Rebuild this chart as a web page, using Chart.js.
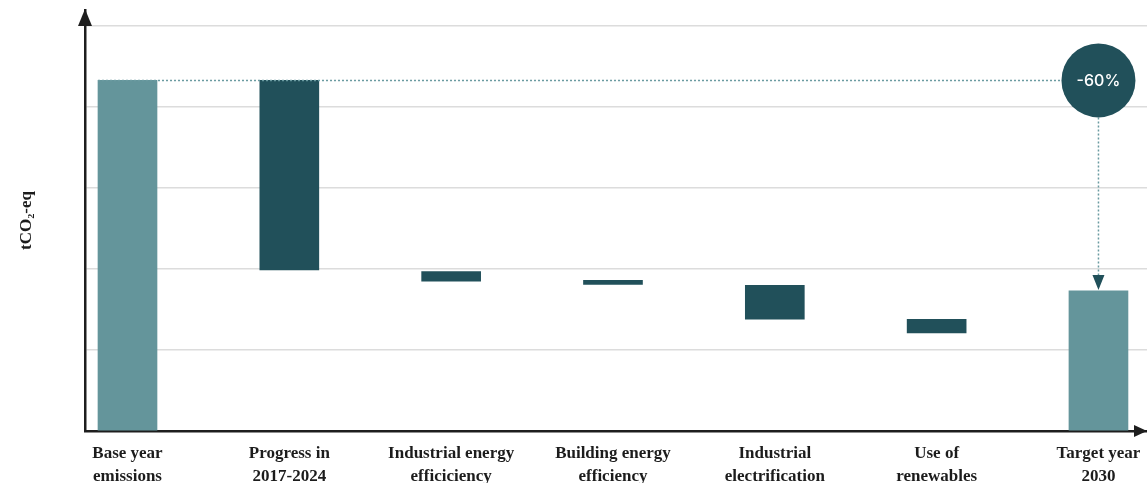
<!DOCTYPE html>
<html>
<head>
<meta charset="utf-8">
<script src="https://cdn.jsdelivr.net/npm/chart.js@4"></script>
<style>
  html, body { margin: 0; padding: 0; background: #fff; }
  .wrap { width: 1147px; height: 483px; position: relative; }
</style>
</head>
<body>
<div class="wrap"><canvas id="chart"></canvas></div>
<script>
// categories (x labels, two lines each)
const categories = [
  ['Base year', 'emissions'],
  ['Progress in', '2017-2024'],
  ['Industrial energy', 'efficiciency'],
  ['Building energy', 'efficiency'],
  ['Industrial', 'electrification'],
  ['Use of', 'renewables'],
  ['Target year', '2030']
];
// floating bar bottoms / tops (tCO2-eq, arbitrary units)
const barLow  = [0,    1.99, 1.85, 1.81, 1.38, 1.21, 0];
const barHigh = [4.33, 4.33, 1.97, 1.86, 1.80, 1.38, 1.73];
const reductionLabel = '-60%';

const LIGHT = '#64959b';
const DARK = '#21505a';
const DOTS = '#6b9ba1';
const barColors = categories.map((c, i) => (i === 0 || i === categories.length - 1) ? LIGHT : DARK);

const overlay = {
  id: 'overlay',
  afterDraw(chart) {
    const { ctx, chartArea, scales: { x, y } } = chart;
    const last = categories.length - 1;
    const baseY = y.getPixelForValue(barHigh[0]);
    const startX = x.getPixelForValue(0) - 29.5;
    const cx = x.getPixelForValue(last);
    const r = 37;
    const targetTop = y.getPixelForValue(barHigh[last]);

    ctx.save();
    // dotted reference lines
    ctx.strokeStyle = DOTS;
    ctx.lineWidth = 1.5;
    ctx.setLineDash([2, 2]);
    ctx.beginPath();
    ctx.moveTo(startX, baseY);
    ctx.lineTo(cx - r, baseY);
    ctx.moveTo(cx, baseY + r);
    ctx.lineTo(cx, targetTop - 16);
    ctx.stroke();
    ctx.setLineDash([]);

    // arrow head down to target bar
    ctx.fillStyle = DARK;
    ctx.beginPath();
    ctx.moveTo(cx - 6, targetTop - 16);
    ctx.lineTo(cx + 6, targetTop - 16);
    ctx.lineTo(cx, targetTop - 1);
    ctx.closePath();
    ctx.fill();

    // circle badge
    ctx.beginPath();
    ctx.arc(cx, baseY, r, 0, Math.PI * 2);
    ctx.fill();
    ctx.fillStyle = '#ffffff';
    ctx.font = '500 16px Inter, "Noto Sans", sans-serif';
    ctx.textAlign = 'center';
    ctx.textBaseline = 'middle';
    ctx.fillText(reductionLabel, cx, baseY + 1);

    // axis arrow heads
    ctx.fillStyle = '#1e1e1e';
    const ax = chartArea.left, ay = chartArea.bottom;
    ctx.beginPath();
    ctx.moveTo(ax - 7, chartArea.top + 16);
    ctx.lineTo(ax + 7, chartArea.top + 16);
    ctx.lineTo(ax, chartArea.top - 1);
    ctx.closePath();
    ctx.fill();
    ctx.beginPath();
    ctx.moveTo(chartArea.right - 13, ay - 6);
    ctx.lineTo(chartArea.right - 13, ay + 6);
    ctx.lineTo(chartArea.right, ay);
    ctx.closePath();
    ctx.fill();
    ctx.restore();
  }
};

new Chart(document.getElementById('chart'), {
  type: 'bar',
  data: {
    datasets: [{
      data: categories.map((c, i) => ({ x: i, y: [barLow[i], barHigh[i]] })),
      backgroundColor: barColors,
      borderWidth: 0,
      borderSkipped: false,
      barThickness: 59
    }]
  },
  options: {
    responsive: true,
    maintainAspectRatio: false,
    animation: false,
    layout: { padding: { top: 10, right: 0, left: 0, bottom: 0 } },
    plugins: { legend: { display: false }, tooltip: { enabled: false } },
    scales: {
      x: {
        type: 'linear',
        offset: false,
        min: -0.2626,
        max: 6.2999,
        z: 1,
        grid: { display: false, offset: false },
        border: { display: true, color: '#1e1e1e', width: 2.5 },
        ticks: {
          stepSize: 1,
          includeBounds: false,
          autoSkip: false,
          maxRotation: 0,
          padding: 4,
          color: '#1c1c1c',
          font: { family: '"Liberation Serif", "DejaVu Serif", serif', size: 17, weight: 'bold', lineHeight: 1.3 },
          callback: (v) => Number.isInteger(v) ? categories[v] : ''
        },
        afterFit(scale) { scale.height = 52; }
      },
      y: {
        min: 0,
        max: 5.2,
        grid: { color: '#dcdcdc', lineWidth: 1.5, drawTicks: false },
        border: { display: true, color: '#1e1e1e', width: 2.5 },
        ticks: { display: false, stepSize: 1, includeBounds: false },
        title: {
          display: true,
          text: 'tCO₂-eq',
          color: '#1c1c1c',
          padding: { top: 16, bottom: 0 },
          font: { family: '"Liberation Serif", "DejaVu Serif", serif', size: 17, weight: 'bold' }
        },
        afterFit(scale) { scale.width = 85; }
      }
    }
  },
  plugins: [overlay]
});
</script>
</body>
</html>
